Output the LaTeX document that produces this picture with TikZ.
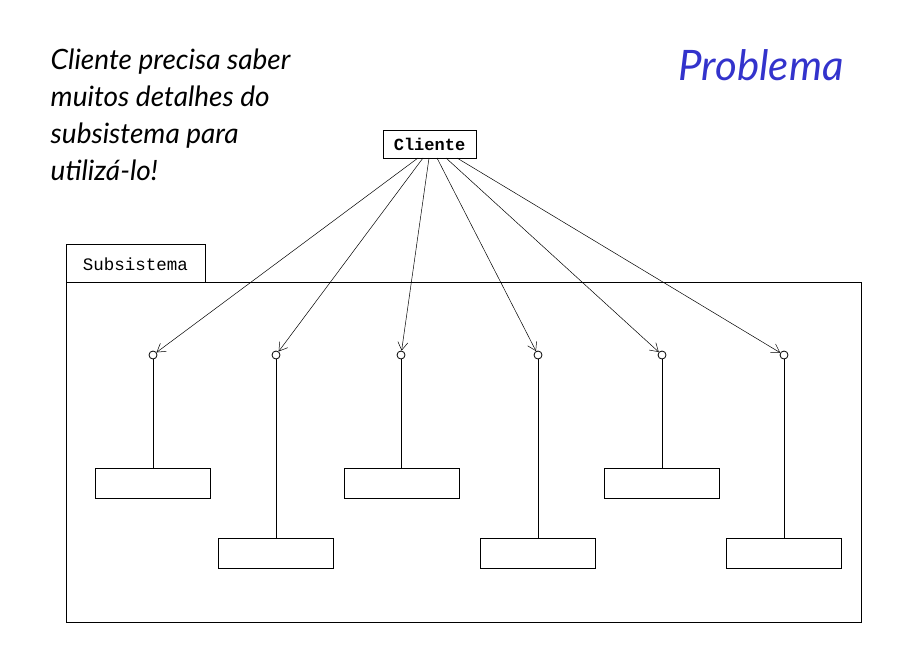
\documentclass[tikz,border=0pt]{standalone}
\usepackage{fontspec}
\setmainfont{Lato}
\setmonofont{Liberation Mono}
\usepackage{tikz}
\usetikzlibrary{arrows.meta}
\definecolor{titleblue}{RGB}{51,51,204}
\tikzset{>={Straight Barb[length=8pt,width=10pt]}}
\tikzset{
  classbox/.style={draw, thick, minimum width=115pt, minimum height=30pt, inner sep=0pt},
  port/.style={draw, circle, inner sep=0pt, minimum size=8pt, fill=white},
  access/.style={->, line width=0.5pt}
}
\begin{document}
\begin{tikzpicture}[x=1pt, y=-1pt, line width=0.8pt]
\useasboundingbox (0,0) rectangle (917,648);
% textos
\node[anchor=north west, align=left, font=\fontsize{28}{37}\selectfont\itshape] (nota) at (47,45)
  {Cliente precisa saber\\muitos detalhes do\\subsistema para\\utiliz\'a-lo!};
\node[text=titleblue, font=\fontsize{42}{42}\selectfont\itshape] (titulo) at (761,65) {Problema};
% subsistema
\draw (66,282) rectangle (205,244);
\node[font=\ttfamily\fontsize{17.5}{17.5}\selectfont] (subnome) at (135.5,264) {Subsistema};
\draw (66,282) rectangle (861,622);
% cliente
\node[draw, minimum width=93pt, minimum height=28pt, inner sep=0pt,
  font=\ttfamily\bfseries\fontsize{17}{17}\selectfont] (cliente) at (429.5,144) {Cliente};
% classes
\node[classbox] (b1) at (153,483) {};
\node[classbox] (b2) at (275.5,553) {};
\node[classbox] (b3) at (402,483) {};
\node[classbox] (b4) at (538,553) {};
\node[classbox] (b5) at (661.5,483) {};
\node[classbox] (b6) at (784,553) {};
% interfaces
\foreach \i/\x in {1/153, 2/276, 3/401, 4/538, 5/662, 6/784} {
  \node[port] (c\i) at (\x,355) {};
  \draw (c\i.south) -- (c\i.south |- b\i.north);
}
% chamadas
\coordinate (s1) at (418,158);
\coordinate (s2) at (423,158);
\coordinate (s3) at (429,158);
\coordinate (s4) at (437,158);
\coordinate (s5) at (446,158);
\coordinate (s6) at (457,158);
\foreach \i in {1,...,6}
  \draw[access] (s\i) -- (c\i);
\end{tikzpicture}
\end{document}
